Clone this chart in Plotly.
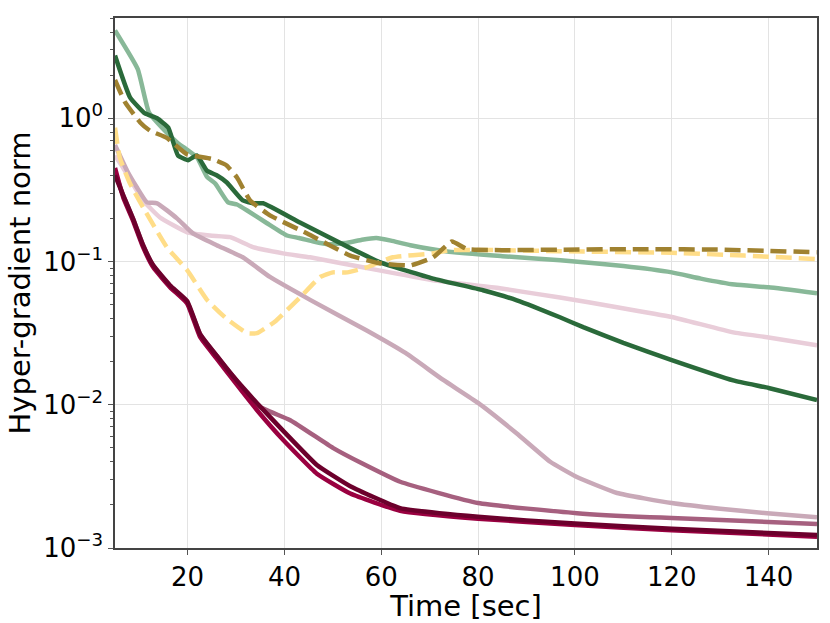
import plotly.graph_objects as go

# ---- data ----
lg_x = [5, 9.7, 12, 15.3, 18, 20, 22, 24, 25.7, 28.3, 30.2, 32.3, 36.4, 40.5, 43, 46, 49, 53, 56, 59, 62, 66, 74, 85, 97, 110, 120, 126, 133, 140, 150]
lg_y = [4.1, 2.2, 1.1, 0.82, 0.67, 0.60, 0.53, 0.39, 0.35, 0.26, 0.25, 0.227, 0.185, 0.152, 0.146, 0.138, 0.132, 0.135, 0.142, 0.146, 0.140, 0.130, 0.117, 0.109, 0.102, 0.093, 0.084, 0.076, 0.069, 0.066, 0.060]

dg_x = [5, 8.1, 11.2, 13.7, 16, 18, 20.1, 21.9, 24, 26, 28.1, 31.4, 33.5, 35.6, 43.2, 53.6, 59.8, 70.7, 81, 88, 96.9, 101.7, 110, 120, 132.7, 140, 150]
dg_y = [2.74, 1.40, 1.08, 1.0, 0.86, 0.55, 0.51, 0.55, 0.43, 0.40, 0.356, 0.267, 0.255, 0.255, 0.187, 0.124, 0.0986, 0.076, 0.063, 0.0536, 0.0408, 0.0348, 0.027, 0.0205, 0.0148, 0.0131, 0.0108]

ol_x = [5, 7.1, 10.2, 12.2, 15.7, 19.9, 25, 28, 30.2, 32.9, 37, 44.7, 53.6, 59.8, 66, 70.7, 74.6, 77.7, 85, 97, 115, 130, 150]
ol_y = [1.85, 1.29, 0.935, 0.82, 0.73, 0.56, 0.52, 0.47, 0.386, 0.267, 0.21, 0.157, 0.110, 0.097, 0.094, 0.107, 0.138, 0.122, 0.120, 0.121, 0.122, 0.121, 0.116]

ye_x = [5, 6, 8.1, 10.8, 15.7, 19.9, 24, 28, 32.3, 34.3, 38, 43.2, 47.4, 50, 53, 57, 62.4, 70.7, 74.2, 85, 97, 120, 135, 150]
ye_y = [0.86, 0.53, 0.35, 0.239, 0.126, 0.087, 0.054, 0.040, 0.0316, 0.0316, 0.038, 0.056, 0.078, 0.084, 0.084, 0.091, 0.107, 0.114, 0.120, 0.120, 0.118, 0.115, 0.110, 0.104]

pk_x = [5, 6.7, 10.8, 14.3, 19.9, 24.6, 28.8, 33.5, 39.7, 45.3, 57, 70.7, 84.5, 96.9, 108.7, 120, 132.7, 139.7, 150]
pk_y = [0.55, 0.45, 0.267, 0.203, 0.16, 0.152, 0.148, 0.126, 0.114, 0.107, 0.090, 0.074, 0.065, 0.056, 0.048, 0.041, 0.032, 0.0296, 0.026]

mv_x = [5, 7.5, 9.5, 11.6, 13.7, 17.8, 21.1, 26, 31.4, 37, 45.3, 57, 65, 72.8, 80, 88, 94.9, 100.4, 108.7, 120, 130, 139.7, 150]
mv_y = [0.65, 0.43, 0.33, 0.259, 0.255, 0.20, 0.157, 0.130, 0.107, 0.078, 0.054, 0.033, 0.023, 0.0149, 0.0103, 0.0063, 0.0040, 0.00313, 0.00242, 0.00206, 0.00188, 0.00175, 0.00164]

mm_x = [5, 6.7, 8.7, 10.8, 12.9, 16.4, 19.9, 22.6, 26, 29.4, 34.3, 41.2, 50, 56, 63.9, 80, 100.4, 115.5, 120, 150]
mm_y = [0.42, 0.29, 0.2, 0.13, 0.093, 0.067, 0.052, 0.031, 0.022, 0.0158, 0.0099, 0.0078, 0.0050, 0.0039, 0.0029, 0.00206, 0.00175, 0.00164, 0.00162, 0.00147]

cr_x = [5, 6.7, 8.7, 10.8, 12.9, 16.4, 19.9, 22.6, 26, 29.4, 34.3, 39.7, 46.7, 53.6, 63.9, 80, 100, 120, 150]
cr_y = [0.45, 0.28, 0.194, 0.126, 0.091, 0.066, 0.051, 0.0296, 0.021, 0.0149, 0.0092, 0.0057, 0.0033, 0.0024, 0.00182, 0.00160, 0.00145, 0.00133, 0.00120]

dc_x = [5, 6.7, 8.7, 10.8, 12.9, 16.4, 19.9, 22.6, 26, 29.4, 34.3, 39.7, 46.7, 53.6, 63.9, 80, 100, 120, 150]
dc_y = [0.40, 0.29, 0.20, 0.13, 0.094, 0.068, 0.053, 0.031, 0.022, 0.0158, 0.0103, 0.0066, 0.0038, 0.0027, 0.0019, 0.00165, 0.00148, 0.00136, 0.00123]

y_tickvals = [0.001, 0.01, 0.1, 1]
y_ticktext = ["10<sup>−3</sup>", "10<sup>−2</sup>", "10<sup>−1</sup>", "10<sup>0</sup>"]
y_minor = [m * 10 ** e for e in (-3, -2, -1, 0) for m in range(2, 10) if m * 10 ** e < 5.1]
x_tickvals = [20, 40, 60, 80, 100, 120, 140]

series = [
    (pk_x, pk_y, "#e9cdd9", "solid"),
    (mv_x, mv_y, "#c9a9b8", "solid"),
    (mm_x, mm_y, "#a6607f", "solid"),
    (cr_x, cr_y, "#9a0040", "solid"),
    (dc_x, dc_y, "#6c002c", "solid"),
    (lg_x, lg_y, "#88b898", "solid"),
    (dg_x, dg_y, "#2a6a3a", "solid"),
    (ye_x, ye_y, "#ffdd88", "16px,7px"),
    (ol_x, ol_y, "#a08230", "16px,7px"),
]

fig = go.Figure()
for xs, ys, col, dash in series:
    fig.add_trace(go.Scatter(x=xs, y=ys, mode="lines",
                             line=dict(color=col, width=4.5, dash=dash, shape="spline", smoothing=0.4),
                             showlegend=False))

font_family = "DejaVu Sans"
fig.update_layout(
    width=830, height=623,
    margin=dict(l=115, r=13, t=18, b=75),
    plot_bgcolor="white", paper_bgcolor="white",
    font=dict(family=font_family, color="black", size=26),
)
fig.update_xaxes(
    range=[5, 150], tickvals=x_tickvals, automargin=False,
    showgrid=True, gridcolor="#e3e3e3", gridwidth=1,
    showline=True, linecolor="#444", linewidth=1.5, mirror=True,
    ticks="outside", ticklen=5, tickcolor="#555",
    tickfont=dict(size=26), zeroline=False,
    title=dict(text="Time [sec]", font=dict(size=29), standoff=8),
)
fig.update_yaxes(
    type="log", range=[-3, 0.70], automargin=False,
    tickvals=y_tickvals, ticktext=y_ticktext,
    showgrid=True, gridcolor="#e3e3e3", gridwidth=1,
    showline=True, linecolor="#444", linewidth=1.5, mirror=True,
    ticks="outside", ticklen=5, tickcolor="#555",
    minor=dict(tickvals=y_minor, ticks="outside", ticklen=3, tickcolor="#555", showgrid=False),
    tickfont=dict(size=26), zeroline=False,
    title=dict(text="Hyper-gradient norm", font=dict(size=29), standoff=4),
)
fig.write_html("out.html", config={"displayModeBar": False},
               post_script="document.body.style.margin='0';document.body.style.overflow='hidden';")
